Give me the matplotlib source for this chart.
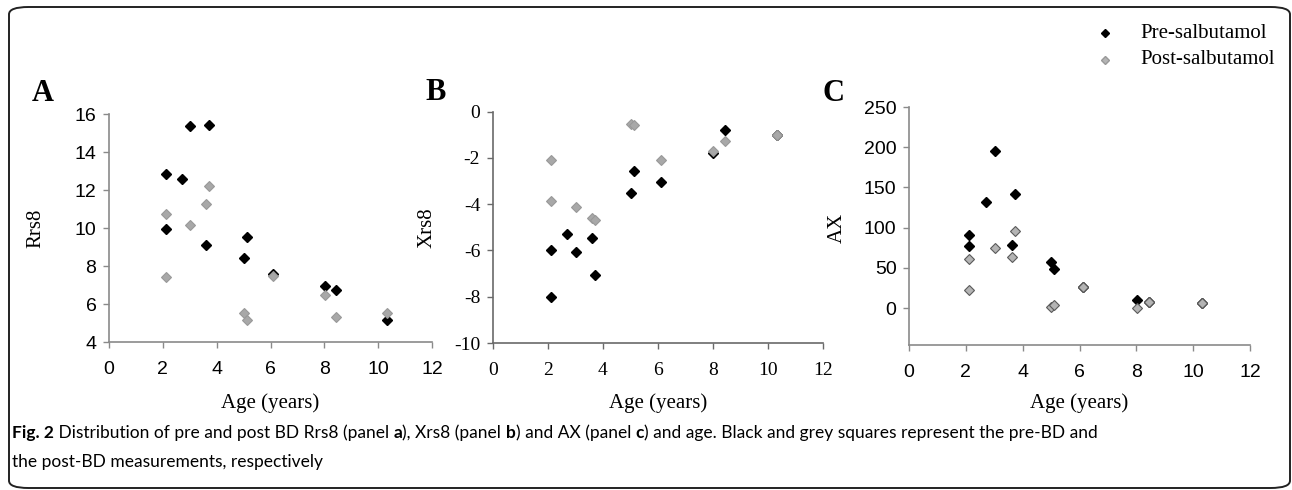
import matplotlib
matplotlib.use("Agg")
import matplotlib.pyplot as plt
from matplotlib.patches import FancyBboxPatch

plt.rcParams["axes.unicode_minus"] = False

W, H = 1292, 490

# ages (years); no post value for the child aged 2.7
age_pre = [2.11, 2.11, 2.70, 3.01, 3.62, 3.72, 5.01, 5.12, 6.11, 8.02, 8.43, 10.32]
age_post = [2.11, 2.11, 3.01, 3.62, 3.72, 5.01, 5.12, 6.11, 8.02, 8.43, 10.32]

rrs8_pre = [12.84, 9.93, 12.58, 15.37, 9.10, 15.40, 8.40, 9.54, 7.56, 6.96, 6.74, 5.14]
rrs8_post = [10.72, 7.41, 10.17, 11.28, 12.21, 5.54, 5.17, 7.50, 6.46, 5.32, 5.51]

xrs8_pre = [-5.98, -8.00, -5.27, -6.08, -5.46, -7.06, -3.53, -2.55, -3.03, -1.80, -0.79, -1.02]
xrs8_post = [-2.10, -3.87, -4.12, -4.58, -4.70, -0.52, -0.58, -2.10, -1.69, -1.27, -1.02]

ax_pre = [90.4, 77.1, 131.4, 195.3, 78.8, 142.2, 57.6, 48.5, 25.7, 10.3, 7.1, 5.8]
ax_post = [60.5, 22.4, 74.2, 63.4, 95.8, 0.9, 3.7, 26.5, 0.0, 7.1, 5.8]

x_ticks = [0, 2, 4, 6, 8, 10, 12]

SERIF = "Liberation Serif"
SANS = "Liberation Sans"
CAP = ["Lato", "DejaVu Sans"]


def px(x, y):
    return x / W, 1 - y / H


def box(left, top, right, bottom):
    return [left / W, 1 - bottom / H, (right - left) / W, (bottom - top) / H]


fig = plt.figure(figsize=(W / 100, H / 100), dpi=100)

# rounded frame round the whole figure
frame = FancyBboxPatch((9 / W, 2 / H), 1281 / W, 481 / H,
                       boxstyle="round,pad=0,rounding_size=0.015",
                       transform=fig.transFigure, fill=False,
                       edgecolor="#222222", linewidth=1.4)
fig.patches.append(frame)

panels = [
    dict(rect=box(109, 114, 432, 342), pre=rrs8_pre, post=rrs8_post,
         ylim=(4, 16), yticks=list(range(4, 17, 2)), font=SANS,
         spine="#8a8a8a", post_face="#a8a8a8", post_edge="#999999",
         letter="A", letter_xy=(32, 93), ylabel="Rrs8", ylabel_x=36),
    dict(rect=box(492.7, 111.7, 823, 343), pre=xrs8_pre, post=xrs8_post,
         ylim=(-10, 0), yticks=list(range(-10, 1, 2)), font=SERIF,
         spine="#6a6a6a", post_face="#a8a8a8", post_edge="#999999",
         letter="B", letter_xy=(425, 92), ylabel="Xrs8", ylabel_x=427),
    dict(rect=box(909, 107, 1250, 345), pre=ax_pre, post=ax_post,
         ylim=(-46, 250), yticks=list(range(0, 251, 50)), font=SANS,
         spine="#8a8a8a", post_face="#b4b4b4", post_edge="#5a5a5a",
         letter="C", letter_xy=(823, 93), ylabel="AX", ylabel_x=837),
]

for p in panels:
    ax = fig.add_axes(p["rect"])
    ax.plot(age_pre, p["pre"], ls="none", marker="D", ms=5,
            mfc="black", mec="black", zorder=3)
    ax.plot(age_post, p["post"], ls="none", marker="D", ms=5,
            mfc=p["post_face"], mec=p["post_edge"], mew=0.8, zorder=4)
    ax.set_xlim(0, 12)
    ax.set_ylim(*p["ylim"])
    ax.set_xticks(x_ticks)
    ax.set_yticks(p["yticks"])
    for s in ["top", "right"]:
        ax.spines[s].set_visible(False)
    for s in ["left", "bottom"]:
        ax.spines[s].set_color(p["spine"])
        ax.spines[s].set_linewidth(1.2)
    ax.tick_params(direction="out", length=4, width=1, color=p["spine"],
                   labelsize=14, labelcolor="black")
    ax.tick_params(axis="x", pad=10)
    ax.tick_params(axis="y", pad=5)
    for lab in ax.get_xticklabels() + ax.get_yticklabels():
        lab.set_fontfamily(p["font"])
    ax.set_facecolor("none")

    l, b, w, h = p["rect"]
    fig.text(*px(*p["letter_xy"]), p["letter"], family=SERIF,
             fontweight="bold", fontsize=22, ha="left", va="center")
    fig.text(*px(p["ylabel_x"], 228), p["ylabel"], family=SERIF,
             fontsize=15, rotation=90, ha="center", va="center")
    fig.text(l + w / 2, 1 - 403 / H, "Age (years)", family=SERIF,
             fontsize=15, ha="center", va="center")

# legend, top right
fig.lines.append(plt.Line2D([1105 / W], [1 - 33 / H], transform=fig.transFigure,
                            ls="none", marker="D", ms=4.5, mfc="black", mec="black"))
fig.lines.append(plt.Line2D([1105 / W], [1 - 60 / H], transform=fig.transFigure,
                            ls="none", marker="D", ms=4.5, mfc="#b4b4b4", mec="#999999"))
fig.text(*px(1140, 33), "Pre-salbutamol", family=SERIF, fontsize=15, ha="left", va="center")
fig.text(*px(1140, 60), "Post-salbutamol", family=SERIF, fontsize=15, ha="left", va="center")

# caption, with bold pieces placed one after another
line1 = [("Fig. 2", True), (" Distribution of pre and post BD Rrs8 (panel ", False),
         ("a", True), ("), Xrs8 (panel ", False), ("b", True),
         (") and AX (panel ", False), ("c", True),
         (") and age. Black and grey squares represent the pre-BD and", False)]
line2 = [("the post-BD measurements, respectively", False)]

fig.canvas.draw()
renderer = fig.canvas.get_renderer()


def write_line(parts, y, size):
    x = 12
    texts = []
    for txt, bold in parts:
        t = fig.text(*px(x, y), txt, family=CAP, fontsize=size,
                     fontweight="bold" if bold else "normal",
                     ha="left", va="center")
        x += t.get_window_extent(renderer).width
        texts.append(t)
    return x - 12, texts


# fit the first caption line to the width it has in the original
width, tmp = write_line(line1, 433, 13)
for t in tmp:
    t.remove()
cap_size = 13 * 1078 / width
write_line(line1, 433, cap_size)
write_line(line2, 462, cap_size)

fig.savefig("out.png", dpi=100)
